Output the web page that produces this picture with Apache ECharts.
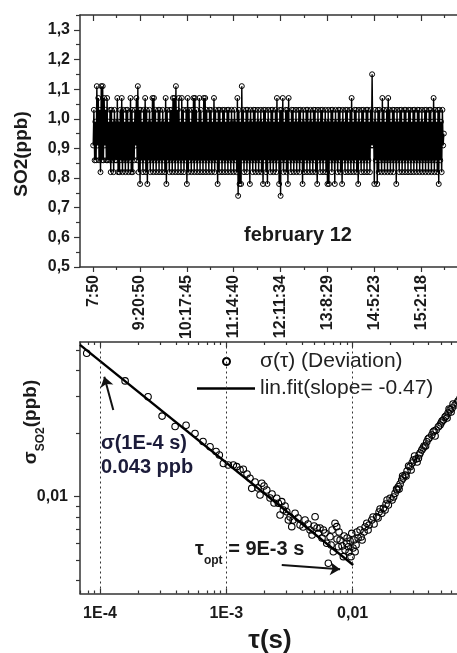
<!DOCTYPE html>
<html><head><meta charset="utf-8">
<script src="https://cdn.jsdelivr.net/npm/echarts@6/dist/echarts.min.js"></script>
<style>html,body{margin:0;padding:0;background:#fff;overflow:hidden;width:457px;height:653px}#c{width:480px;height:653px}</style>
</head><body><div id="c"></div>
<script>
// ---------- top panel: SO2 time series ----------
const timeLabels = ['7:50','9:20:50','10:17:45','11:14:40','12:11:34','13:8:29','14:5:23','15:2:18'];
const timeTickIndex = [0,64,128,192,256,320,384,448];
const timeMinorIndex = [32,96,160,224,288,352,416,480];
const so2TickValues = [0.5,0.6,0.7,0.8,0.9,1.0,1.1,1.2,1.3];
const so2MinorValues = [0.55,0.65,0.75,0.85,0.95,1.05,1.15,1.25,1.35];
const so2 = [
0.91,1.03,0.86,0.99,0.86,1.11,0.91,1.07,0.86,1.03,0.82,1.11,0.86,1.11,0.86,1.07,0.91,1.03,0.86,1.07,0.86,0.99,0.86,1.03,0.82,1.03,0.86,0.99,0.82,1.03,0.86,0.99,
0.86,1.07,0.82,0.99,0.82,1.03,0.86,1.07,0.82,1.03,0.86,0.99,0.82,1.03,0.86,1.03,0.82,0.99,0.86,1.07,0.82,1.03,0.82,0.99,0.86,1.03,0.91,1.07,0.86,1.11,0.82,1.03,
0.78,1.03,0.86,0.99,0.82,1.03,0.86,1.07,0.82,1.03,0.78,0.99,0.86,1.03,0.82,0.99,0.86,1.07,0.82,1.07,0.86,1.03,0.82,0.99,0.86,1.03,0.82,1.03,0.86,0.99,0.82,1.03,
0.86,0.99,0.82,1.07,0.78,1.03,0.86,0.99,0.82,1.03,0.86,1.03,0.82,1.07,0.86,1.07,0.82,1.11,0.86,1.03,0.82,1.07,0.86,0.99,0.82,1.07,0.86,1.03,0.82,0.99,0.86,1.03,
0.78,1.07,0.82,1.03,0.86,0.99,0.82,1.03,0.86,1.07,0.82,1.07,0.86,1.03,0.82,0.99,0.86,1.07,0.82,1.03,0.86,0.99,0.82,1.07,0.86,1.07,0.82,1.03,0.86,0.99,0.82,1.03,
0.86,1.03,0.82,0.99,0.86,1.07,0.82,1.03,0.86,0.99,0.78,1.03,0.82,1.03,0.86,0.99,0.82,1.03,0.86,1.03,0.82,0.99,0.86,1.03,0.82,1.03,0.86,0.99,0.82,1.03,0.86,0.99,
0.82,1.03,0.86,0.99,0.82,1.07,0.74,1.03,0.78,0.99,0.78,1.11,0.86,1.03,0.82,0.99,0.86,1.03,0.82,1.03,0.86,0.99,0.78,1.03,0.86,0.99,0.82,1.03,0.86,1.03,0.82,0.99,
0.86,1.03,0.82,0.99,0.86,1.03,0.82,0.99,0.78,1.03,0.86,1.03,0.82,0.99,0.78,1.03,0.86,0.99,0.82,1.03,0.86,1.03,0.82,0.99,0.86,1.03,0.82,1.07,0.86,0.99,0.78,1.03,
0.74,1.03,0.86,1.07,0.82,0.99,0.86,1.03,0.82,1.03,0.78,1.07,0.86,0.99,0.82,1.03,0.86,1.03,0.82,0.99,0.86,1.03,0.82,0.99,0.86,1.03,0.82,1.03,0.86,0.99,0.78,1.03,
0.82,0.99,0.86,1.03,0.82,1.03,0.86,0.99,0.82,1.03,0.86,0.99,0.82,1.03,0.86,1.03,0.82,0.99,0.78,1.03,0.86,0.99,0.82,1.03,0.86,1.03,0.82,0.99,0.86,1.03,0.82,0.99,
0.78,1.03,0.78,0.99,0.86,1.03,0.82,1.03,0.86,0.99,0.78,1.03,0.86,0.99,0.82,1.03,0.86,1.03,0.82,0.99,0.78,1.03,0.86,0.99,0.82,1.03,0.86,1.03,0.82,0.99,0.86,1.03,
0.82,1.07,0.86,0.99,0.82,1.03,0.86,1.03,0.82,0.99,0.78,1.03,0.86,0.99,0.82,1.03,0.86,1.03,0.82,0.99,0.86,1.03,0.82,1.03,0.86,0.99,0.82,1.03,0.91,1.15,0.91,0.99,
0.78,1.03,0.86,0.99,0.78,1.03,0.82,1.03,0.86,0.99,0.82,1.07,0.86,1.03,0.82,0.99,0.86,1.03,0.82,1.07,0.86,1.03,0.82,0.99,0.86,1.03,0.82,1.03,0.86,0.99,0.78,1.03,
0.86,0.99,0.82,1.03,0.86,1.03,0.82,0.99,0.86,1.03,0.82,1.03,0.86,0.99,0.82,1.03,0.86,1.03,0.82,0.99,0.86,1.03,0.82,1.03,0.86,0.99,0.82,1.03,0.86,1.03,0.82,0.99,
0.86,1.03,0.82,0.99,0.86,1.03,0.82,1.03,0.86,0.99,0.82,1.03,0.86,1.03,0.82,0.99,0.86,1.07,0.82,1.03,0.86,0.99,0.82,1.03,0.78,1.03,0.86,0.99,0.82,1.03,0.91,0.95
];

// ---------- bottom panel: Allan deviation ----------
const tau = [
7.85e-5,1.58e-4,2.40e-4,3.10e-4,3.93e-4,4.80e-4,5.65e-4,6.54e-4,7.43e-4,8.29e-4,8.80e-4,9.47e-4,
1.037e-3,1.136e-3,1.208e-3,1.284e-3,1.363e-3,1.458e-3,1.540e-3,1.589e-3,1.687e-3,1.782e-3,1.848e-3,1.907e-3,
1.988e-3,2.089e-3,2.218e-3,2.300e-3,2.386e-3,2.506e-3,2.581e-3,2.662e-3,2.746e-3,2.827e-3,2.916e-3,3.008e-3,
3.097e-3,3.195e-3,3.295e-3,3.374e-3,3.499e-3,3.696e-3,3.834e-3,4.050e-3,4.198e-3,4.435e-3,4.600e-3,4.770e-3,
4.950e-3,5.040e-3,5.224e-3,5.350e-3,5.510e-3,5.720e-3,5.860e-3,6.045e-3,6.230e-3,6.420e-3,6.620e-3,6.745e-3,
6.870e-3,7.030e-3,7.250e-3,7.480e-3,7.520e-3,7.700e-3,7.800e-3,7.950e-3,8.240e-3,8.440e-3,8.550e-3,8.710e-3,
8.980e-3,9.030e-3,9.250e-3,9.370e-3,9.540e-3,9.700e-3,9.840e-3,1.007e-2,1.026e-2,1.045e-2,1.064e-2,1.104e-2,
1.144e-2,1.187e-2,1.231e-2,1.293e-2,1.324e-2,1.416e-2,1.477e-2,1.551e-2,1.618e-2,1.700e-2,1.750e-2,1.838e-2,
1.917e-2,1.977e-2,2.051e-2,2.166e-2,2.246e-2,2.300e-2,2.373e-2,2.447e-2,2.506e-2,2.600e-2,2.696e-2,2.848e-2,
2.954e-2,3.025e-2,3.177e-2,3.313e-2,3.418e-2,3.525e-2,3.676e-2,3.861e-2,4.027e-2,4.230e-2,4.411e-2,4.574e-2,
4.770e-2,5.010e-2,5.226e-2,5.489e-2,5.693e-2,5.904e-2,6.123e-2,6.467e-2,6.832e-2,7.347e-2,
1.083e-2,1.166e-2,1.254e-2,1.349e-2,1.450e-2,1.589e-2,1.648e-2,1.805e-2,1.873e-2,
2.108e-2,2.226e-2,2.330e-2,2.484e-2,2.647e-2,2.771e-2,2.901e-2,3.090e-2,3.236e-2,3.356e-2,3.609e-2,3.777e-2,
3.954e-2,4.331e-2,4.492e-2,4.920e-2,5.102e-2,5.389e-2,5.589e-2,5.796e-2,6.012e-2,6.235e-2,6.708e-2,7.086e-2
];
const sigma = [
0.0482,0.0356,0.0299,0.0242,0.0216,0.0219,0.0200,0.0183,0.0173,0.0164,0.0158,0.0144,
0.01416,0.01416,0.01390,0.01340,0.01351,0.01282,0.01224,0.01096,0.01175,0.01100,0.01019,0.01158,
0.01125,0.01076,0.00986,0.01030,0.00933,0.00983,0.00930,0.00818,0.00947,0.00864,0.00903,0.00848,
0.00774,0.00800,0.00720,0.00774,0.00834,0.00792,0.00733,0.00717,0.00774,0.00741,0.00694,0.00657,
0.00725,0.00803,0.00709,0.00669,0.00709,0.00636,0.00694,0.00672,0.00600,0.00482,0.00645,0.00589,
0.00694,0.00547,0.00747,0.00720,0.00629,0.00578,0.00679,0.00622,0.00582,0.00518,0.00650,0.00557,
0.00600,0.00636,0.00578,0.00545,0.00615,0.00518,0.00669,0.00570,0.00622,0.00547,0.00589,0.00636,
0.00694,0.00622,0.00679,0.00747,0.00694,0.00774,0.00741,0.00803,0.00846,0.00834,0.00881,0.00923,
0.00913,0.00983,0.00964,0.01038,0.01076,0.01116,0.01149,0.01201,0.01227,0.01268,0.01326,0.01390,
0.01447,0.01496,0.01512,0.01524,0.01614,0.01668,0.01743,0.01827,0.01904,0.01967,0.02056,0.02078,
0.02154,0.02244,0.02318,0.02422,0.02503,0.02587,0.02645,0.02733,0.02855,0.02984,
0.00679,0.00643,0.00717,0.00733,0.00800,0.00792,0.00874,0.00864,0.00964,
0.00997,0.01088,0.01088,0.01255,0.01255,0.01400,0.01340,0.01563,0.01463,0.01580,0.01705,0.01743,
0.01883,0.02032,0.01945,0.02196,0.02293,0.02396,0.02370,0.02616,0.02531,0.02763,0.02794,0.02951
];
const fitTau = [6.944e-5, 1.01e-2];
const fitSigma = [0.0528, 0.00473];
const tauMajor = [1e-4, 1e-3, 1e-2];
const tauMajorLabels = ['1E-4', '1E-3', '0,01'];
const tauMinor = [7e-5,8e-5,9e-5,2e-4,3e-4,4e-4,5e-4,6e-4,7e-4,8e-4,9e-4,2e-3,3e-3,4e-3,5e-3,6e-3,7e-3,8e-3,9e-3,2e-2,3e-2,4e-2,5e-2,6e-2,7e-2,8e-2,9e-2];
const sigmaMajor = [0.01];
const sigmaMajorLabels = ['0,01'];
const sigmaMinor = [0.004,0.005,0.006,0.007,0.008,0.009,0.02,0.03,0.04,0.05];
const refTau = [1e-4, 1e-3, 1e-2];
const arrow1 = [[1.274e-4, 0.02587], [1.081e-4, 0.03727]];
const arrow2 = [[2.746e-3, 0.00473], [7.95e-3, 0.00451]];

const FONT = "'Liberation Sans', Arial, Helvetica, sans-serif";
const INK = '#1a1a1a';
const AX = '#333';

const chart = echarts.init(document.getElementById('c'), null, {renderer: 'canvas'});

function ax(o) {
  const base = {
    axisLine: {show: false, onZero: false},
    splitLine: {show: false},
    axisLabel: {show: false},
    axisTick: {show: false},
    silent: true
  };
  return Object.assign(base, o);
}
const lineStyleAx = {color: AX, width: 1.5};
const tickStyle = {color: AX, width: 1.2};
const lblStyle = {fontSize: 16, fontWeight: 'bold', color: INK, fontFamily: FONT};

const tMin = -18, tMax = 527;
const tauMin = 6.944e-5, tauMax = 0.1;
const sMin = 0.003459, sMax = 0.05453;

function nearestLabel(v, vals, labels) {
  let best = 0, bd = Infinity;
  vals.forEach((t, i) => { const d = Math.abs(Math.log10(t) - Math.log10(v)); if (d < bd) { bd = d; best = i; } });
  return labels[best];
}

const option = {
  backgroundColor: '#fff',
  animation: false,
  textStyle: {fontFamily: FONT},
  grid: [
    {left: 80, top: 15, width: 399, height: 252, outerBoundsMode: 'none', containLabel: false},
    {left: 80, top: 342, width: 399, height: 251.5, outerBoundsMode: 'none', containLabel: false}
  ],
  xAxis: [
    ax({type: 'value', gridIndex: 0, position: 'bottom', min: tMin, max: tMax,
      axisLine: {show: true, onZero: false, lineStyle: lineStyleAx},
      axisTick: {show: true, inside: false, length: 5, customValues: timeTickIndex, lineStyle: tickStyle},
      axisLabel: Object.assign({show: true, customValues: timeTickIndex, rotate: 90, margin: 8,
        formatter: v => timeLabels[timeTickIndex.indexOf(Math.round(v))] || ''}, lblStyle)}),
    ax({type: 'value', gridIndex: 0, position: 'bottom', min: tMin, max: tMax,
      axisTick: {show: true, inside: false, length: 3, customValues: timeMinorIndex, lineStyle: tickStyle}}),
    ax({type: 'value', gridIndex: 0, position: 'top', min: tMin, max: tMax,
      axisLine: {show: true, onZero: false, lineStyle: lineStyleAx},
      axisTick: {show: true, inside: true, length: 6, customValues: timeTickIndex, lineStyle: tickStyle}}),
    ax({type: 'value', gridIndex: 0, position: 'top', min: tMin, max: tMax,
      axisTick: {show: true, inside: true, length: 3, customValues: timeMinorIndex, lineStyle: tickStyle}}),

    ax({type: 'log', logBase: 10, gridIndex: 1, position: 'bottom', min: tauMin, max: tauMax,
      axisLine: {show: true, onZero: false, lineStyle: lineStyleAx},
      axisTick: {show: true, inside: true, length: 5, customValues: tauMajor, lineStyle: tickStyle},
      axisLabel: Object.assign({show: true, customValues: tauMajor, margin: 12,
        formatter: v => nearestLabel(v, tauMajor, tauMajorLabels)}, lblStyle)}),
    ax({type: 'log', logBase: 10, gridIndex: 1, position: 'bottom', min: tauMin, max: tauMax,
      axisTick: {show: true, inside: true, length: 3, customValues: tauMinor, lineStyle: tickStyle}}),
    ax({type: 'log', logBase: 10, gridIndex: 1, position: 'top', min: tauMin, max: tauMax,
      axisLine: {show: true, onZero: false, lineStyle: lineStyleAx},
      axisTick: {show: true, inside: true, length: 5, customValues: tauMajor, lineStyle: tickStyle}}),
    ax({type: 'log', logBase: 10, gridIndex: 1, position: 'top', min: tauMin, max: tauMax,
      axisTick: {show: true, inside: true, length: 3, customValues: tauMinor, lineStyle: tickStyle}})
  ],
  yAxis: [
    ax({type: 'value', gridIndex: 0, position: 'left', min: 0.5, max: 1.35,
      axisLine: {show: true, onZero: false, lineStyle: lineStyleAx},
      axisTick: {show: true, inside: false, length: 6, customValues: so2TickValues, lineStyle: tickStyle},
      axisLabel: Object.assign({show: true, customValues: so2TickValues, margin: 10,
        formatter: v => v.toFixed(1).replace('.', ',')}, lblStyle)}),
    ax({type: 'value', gridIndex: 0, position: 'left', min: 0.5, max: 1.35,
      axisTick: {show: true, inside: false, length: 4, customValues: so2MinorValues, lineStyle: tickStyle}}),
    ax({type: 'log', logBase: 10, gridIndex: 1, position: 'left', min: sMin, max: sMax,
      axisLine: {show: true, onZero: false, lineStyle: lineStyleAx},
      axisTick: {show: true, inside: false, length: 6, customValues: sigmaMajor, lineStyle: tickStyle},
      axisLabel: Object.assign({show: true, customValues: sigmaMajor, margin: 12,
        formatter: v => nearestLabel(v, sigmaMajor, sigmaMajorLabels)}, lblStyle)}),
    ax({type: 'log', logBase: 10, gridIndex: 1, position: 'left', min: sMin, max: sMax,
      axisTick: {show: true, inside: false, length: 4, customValues: sigmaMinor, lineStyle: tickStyle}})
  ],
  legend: [
    {data: [{name: 'σ(τ) (Deviation)'}], left: 222, top: 351, orient: 'vertical', padding: 0,
      itemWidth: 7, itemHeight: 7, selectedMode: false,
      textStyle: {fontSize: 21, color: '#222', fontFamily: FONT, padding: [0, 0, 0, 25]}},
    {data: [{name: 'lin.fit(slope= -0.47)', icon: 'rect'}], left: 197, top: 378, orient: 'vertical', padding: 0,
      itemWidth: 58, itemHeight: 2.5, selectedMode: false,
      itemStyle: {color: '#000'},
      textStyle: {fontSize: 21, color: '#222', fontFamily: FONT}}
  ],
  series: [
    {
      name: 'SO2', type: 'line', xAxisIndex: 0, yAxisIndex: 0,
      data: so2.map((v, i) => [i, v]),
      symbol: 'circle', symbolSize: 5, showAllSymbol: true,
      lineStyle: {color: '#000', width: 1.4},
      itemStyle: {color: 'rgba(255,255,255,0)', borderColor: '#000', borderWidth: 1},
      emphasis: {disabled: true}, silent: true
    },
    {
      name: 'σ(τ) (Deviation)', type: 'scatter', xAxisIndex: 4, yAxisIndex: 2,
      data: tau.map((t, i) => [t, sigma[i]]),
      symbol: 'circle', symbolSize: 6.5,
      itemStyle: {color: 'rgba(255,255,255,0)', borderColor: '#000', borderWidth: 1.1, opacity: 1},
      emphasis: {disabled: true}, silent: true, z: 3,
      markLine: {
        silent: true, symbol: ['none', 'none'], label: {show: false}, animation: false,
        lineStyle: {type: [2, 3], color: '#333', width: 1},
        data: refTau.map(t => [{coord: [t, sMin]}, {coord: [t, sMax]}])
      }
    },
    {
      name: 'lin.fit(slope= -0.47)', type: 'line', xAxisIndex: 4, yAxisIndex: 2,
      data: fitTau.map((t, i) => [t, fitSigma[i]]),
      symbol: 'none', lineStyle: {color: '#000', width: 2.4},
      itemStyle: {color: '#000'},
      emphasis: {disabled: true}, silent: true, z: 4,
      markLine: {
        silent: true, symbol: ['none', 'arrow'], symbolSize: 10, label: {show: false}, animation: false,
        lineStyle: {type: 'solid', color: '#111', width: 2},
        itemStyle: {color: '#111'},
        data: [
          [{coord: arrow1[0]}, {coord: arrow1[1]}],
          [{coord: arrow2[0]}, {coord: arrow2[1]}]
        ]
      }
    }
  ],
  graphic: [
    {type: 'text', x: 22, y: 154, rotation: Math.PI / 2, silent: true,
      style: {text: 'SO2(ppb)', fontSize: 19, fontWeight: 'bold', fontFamily: FONT, fill: INK, align: 'center', verticalAlign: 'middle'}},
    {type: 'text', x: 298, y: 235, silent: true,
      style: {text: 'february 12', fontSize: 20, fontWeight: 'bold', fontFamily: FONT, fill: INK, align: 'center', verticalAlign: 'middle'}},
    {type: 'text', x: 34, y: 422, rotation: Math.PI / 2, silent: true,
      style: {text: '{a|σ}{s|SO2}{a|(ppb)}', align: 'center', verticalAlign: 'middle', fill: INK,
        rich: {
          a: {fontSize: 19, fontWeight: 'bold', fontFamily: FONT, fill: INK, verticalAlign: 'bottom', padding: [0, 0, 6, 0]},
          s: {fontSize: 12, fontWeight: 'bold', fontFamily: FONT, fill: INK, verticalAlign: 'bottom'}
        }}},
    {type: 'text', x: 270, y: 641, silent: true,
      style: {text: 'τ(s)', fontSize: 26, fontWeight: 'bold', fontFamily: FONT, fill: INK, align: 'center', verticalAlign: 'middle'}},
    {type: 'text', x: 101, y: 443, silent: true,
      style: {text: 'σ(1E-4 s)', fontSize: 20, fontWeight: 'bold', fontFamily: FONT, fill: '#1c1c3a', align: 'left', verticalAlign: 'middle'}},
    {type: 'text', x: 101, y: 467, silent: true,
      style: {text: '0.043 ppb', fontSize: 20, fontWeight: 'bold', fontFamily: FONT, fill: '#1c1c3a', align: 'left', verticalAlign: 'middle'}},
    {type: 'text', x: 195, y: 553, silent: true,
      style: {text: '{t|τ}{s|opt}{t| = 9E-3 s}', align: 'left', verticalAlign: 'middle', fill: INK,
        rich: {
          t: {fontSize: 20, fontWeight: 'bold', fontFamily: FONT, fill: INK, verticalAlign: 'bottom', padding: [0, 0, 7, 0]},
          s: {fontSize: 12, fontWeight: 'bold', fontFamily: FONT, fill: INK, verticalAlign: 'bottom'}
        }}}
  ]
};
chart.setOption(option);
</script>
</body></html>
